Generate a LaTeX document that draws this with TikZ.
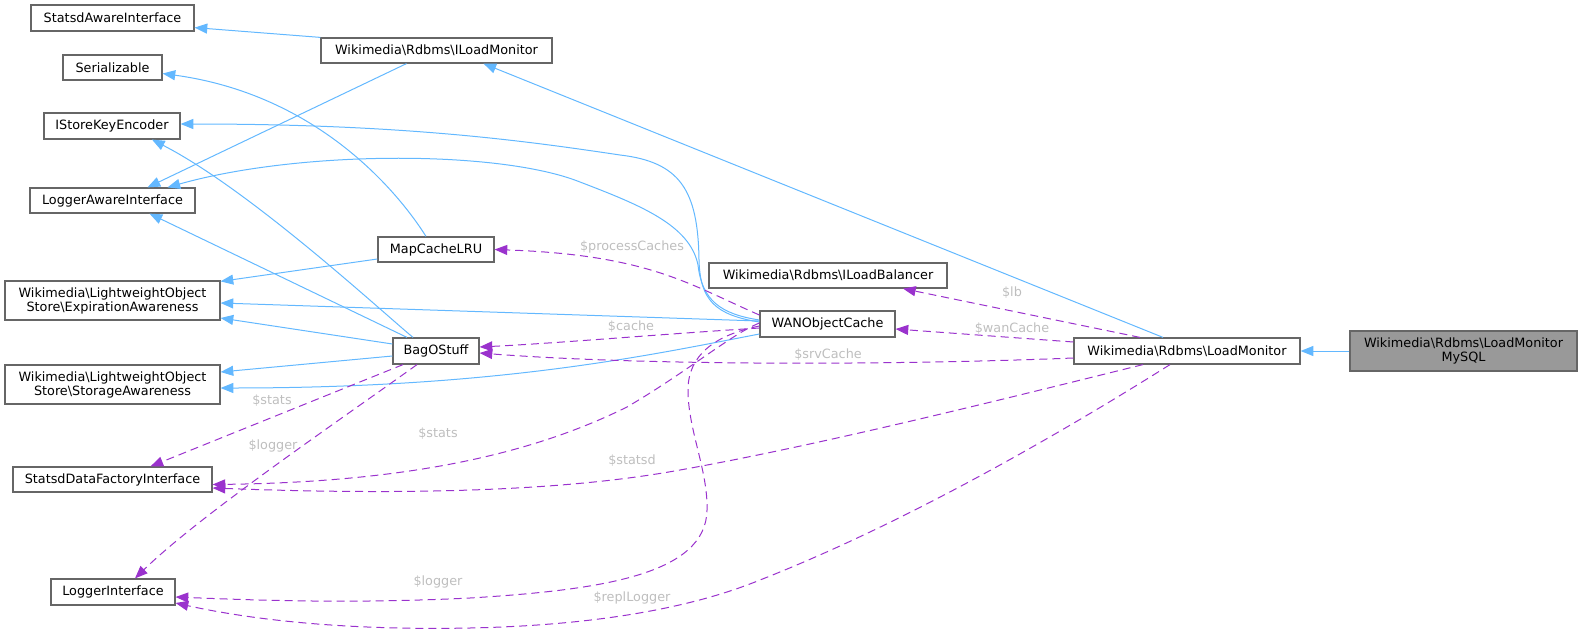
\documentclass[tikz,border=0pt]{standalone}
\usepackage{fontspec}
\setmainfont{DejaVu Sans}
\usetikzlibrary{arrows.meta,calc}
\definecolor{inhc}{HTML}{63B8FF}
\definecolor{usgc}{HTML}{9A32CD}
\definecolor{lblc}{HTML}{BEBEBE}
\definecolor{bordc}{HTML}{666666}
\definecolor{fillg}{HTML}{999999}
\newcommand\bs{\textbackslash}
\begin{document}
\begin{tikzpicture}[x=0.75pt,y=-0.75pt,
 every node/.style={font=\fontsize{9.6pt}{10.5pt}\selectfont},
 box/.style 2 args={draw=bordc, line width=0.9pt, fill=white, inner sep=0pt, align=center, minimum width=#1*0.75pt, minimum height=#2*0.75pt},
 inhline/.style={draw=inhc, line width=0.75pt, -{Triangle[length=9.5pt,width=7.5pt]}},
 usgline/.style={draw=usgc, line width=0.75pt, dash pattern=on 6pt off 3.75pt, -{Triangle[length=9.5pt,width=7.5pt]}},
 elabel/.style={text=lblc, inner sep=0pt}]
\useasboundingbox (0,0) rectangle (1583,635);
% nodes
\node[box={163}{26}] (sai) at (112.5,18) {StatsdAwareInterface};
\node[box={99}{25}] (ser) at (112.5,67.5) {Serializable};
\node[box={136}{26}] (ske) at (112,126) {IStoreKeyEncoder};
\node[box={165}{25}] (lai) at (112.5,200.5) {LoggerAwareInterface};
\node[box={231}{25}] (ilm) at (436.5,50.5) {Wikimedia\bs Rdbms\bs ILoadMonitor};
\node[box={116}{25}] (mcl) at (436,249.5) {MapCacheLRU};
\node[box={215}{39}] (ea) at (112.5,300.5) {Wikimedia\bs LightweightObject\\Store\bs ExpirationAwareness};
\node[box={86}{26}] (bos) at (436,351) {BagOStuff};
\node[box={215}{39}] (sa) at (112.5,384.5) {Wikimedia\bs LightweightObject\\Store\bs StorageAwareness};
\node[box={199}{25}] (sdfi) at (112.5,479.5) {StatsdDataFactoryInterface};
\node[box={124}{26}] (li) at (113,592) {LoggerInterface};
\node[box={238}{25}] (ilb) at (828,275.5) {Wikimedia\bs Rdbms\bs ILoadBalancer};
\node[box={135}{26}] (wan) at (827.5,324) {WANObjectCache};
\node[box={226}{26}] (lm) at (1187,351) {Wikimedia\bs Rdbms\bs LoadMonitor};
\node[box={227}{40}, fill=fillg] (my) at (1463.5,351) {Wikimedia\bs Rdbms\bs LoadMonitor\\MySQL};
% inheritance edges
\draw[inhline] (ilm.north west) -- ($(sai.south east)+(0,-4)$);
\draw[inhline] ($(ilm.south)+(-30,0)$) -- ($(lai.north)+(35,0)$);
\draw[inhline] ($(lm.north)+(-24,0)$) -- ($(ilm.south)+(47,0)$);
\draw[inhline] ($(mcl.north)+(-10,0)$) .. controls (400,195) and (320,95) .. ($(ser.east)+(0,6)$);
\draw[inhline] ($(mcl.west)+(0,9.5)$) -- ($(ea.north east)+(0,1)$);
\draw[inhline] ($(bos.north)+(-23,0)$) .. controls (380,310) and (250,190) .. ($(ske.south)+(40,0)$);
\draw[inhline] ($(bos.north)+(-29,0)$) -- ($(lai.south)+(37,0)$);
\draw[inhline] ($(bos.west)+(0,-7)$) -- ($(ea.east)+(0,17.5)$);
\draw[inhline] ($(bos.west)+(0,5)$) -- ($(sa.east)+(0,-12.5)$);
\draw[inhline] ($(wan.west)+(0,-2)$) .. controls (715,315) and (700,300) .. (699,260) .. controls (698,190) and (680,162) .. (620,155) .. controls (520,140) and (400,124) .. ($(ske.east)+(0,-2)$);
\draw[inhline] ($(wan.west)+(0,-4)$) .. controls (720,314) and (702,300) .. (698,265) .. controls (690,225) and (640,205) .. (580,182) .. controls (500,150) and (300,150) .. ($(lai.north)+(55,0)$);
\draw[inhline] ($(wan.west)+(0,-3)$) -- ($(ea.east)+(0,2.5)$);
\draw[inhline] ($(wan.west)+(0,10)$) .. controls (650,355) and (500,388) .. ($(sa.east)+(0,3.5)$);
\draw[inhline] (my.west) -- (lm.east);
% usage edges
\draw[usgline] ($(wan.west)+(0,-9)$) .. controls (690,285) and (650,255) .. (mcl.east);
\node[elabel] (l1) at (632,247) {\$processCaches};
\draw[usgline] ($(wan.west)+(0,4)$) .. controls (650,335) and (560,343) .. ($(bos.east)+(0,-4)$);
\node[elabel] (l2) at (631,327) {\$cache};
\draw[usgline] ($(lm.west)+(0,7)$) .. controls (900,365) and (650,366) .. ($(bos.east)+(0,2)$);
\node[elabel] (l3) at (828,355) {\$srvCache};
\draw[usgline] ($(lm.west)+(0,-9)$) -- ($(wan.east)+(0,5)$);
\node[elabel] (l4) at (1012,329) {\$wanCache};
\draw[usgline] ($(lm.north)+(-47,0)$) -- ($(ilb.south)+(75,0)$);
\node[elabel] (l5) at (1012,293) {\$lb};
\draw[usgline] ($(wan.west)+(0,-1)$) .. controls (730,335) and (690,370) .. (627,407) .. controls (540,450) and (420,482) .. ($(sdfi.east)+(0,5)$);
\node[elabel] (l6) at (438,434) {\$stats};
\draw[usgline] ($(wan.west)+(0,2)$) .. controls (715,335) and (688,355) .. (688,390) .. controls (688,430) and (708,470) .. (707,510) .. controls (706,575) and (600,590) .. (470,598) .. controls (350,604) and (250,600) .. ($(li.east)+(0,5)$);
\node[elabel] (l7) at (438,582) {\$logger};
\draw[usgline] ($(bos.south)+(-33,0)$) -- ($(sdfi.north)+(38,0)$);
\node[elabel] (l8) at (272,401) {\$stats};
\draw[usgline] ($(bos.south)+(-19,0)$) .. controls (340,420) and (200,515) .. ($(li.north)+(22,0)$);
\node[elabel] (l9) at (273,446) {\$logger};
\draw[usgline] ($(lm.south)+(-44,0)$) .. controls (1000,400) and (820,445) .. (680,470) .. controls (560,492) and (400,495) .. ($(sdfi.east)+(0,8.5)$);
\node[elabel] (l10) at (632,461) {\$statsd};
\draw[usgline] ($(lm.south)+(-17,0)$) .. controls (1050,440) and (900,525) .. (760,580) .. controls (650,625) and (500,630) .. (400,628) .. controls (300,626) and (230,615) .. ($(li.east)+(0,11)$);
\node[elabel] (l11) at (632,598) {\$replLogger};
\end{tikzpicture}
\end{document}
